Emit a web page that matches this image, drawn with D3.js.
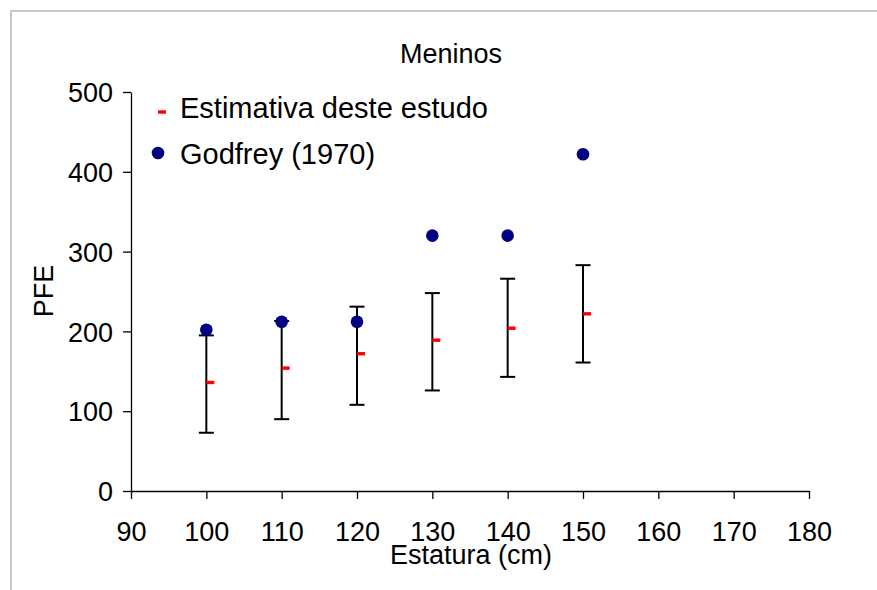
<!DOCTYPE html>
<html>
<head>
<meta charset="utf-8">
<script src="https://cdn.jsdelivr.net/npm/d3@7"></script>
<style>
  body { margin: 0; background: #fff; }
  text { font-family: "Liberation Sans", Arial, sans-serif; fill: #000; }
</style>
</head>
<body>
<div id="chart"></div>
<script>
// data
const estatura = [100, 110, 120, 130, 140, 150]
const estimativa = [136, 154, 172, 189, 204, 222]
const limiteSup = [195, 213, 231, 248, 266, 283]
const limiteInf = [73, 90, 108, 126, 143, 161]
const godfrey = [202, 212, 212, 320, 320, 422]
const xTicks = [90, 100, 110, 120, 130, 140, 150, 160, 170, 180]
const yTicks = [0, 100, 200, 300, 400, 500]

const W = 877, H = 590
const fontSize = 27
const legendSize = 29

let svg = d3.select('#chart')
  .append('svg')
  .attr('width', W)
  .attr('height', H)

// outer frame (only left and top visible)
svg.append('rect')
  .attr('x', 11)
  .attr('y', 11)
  .attr('width', W + 20)
  .attr('height', H + 20)
  .attr('fill', 'none')
  .attr('stroke', '#c8c8c8')
  .attr('stroke-width', 2)

let x = d3.scaleLinear().domain([90, 180]).range([131, 809])
let y = d3.scaleLinear().domain([0, 500]).range([491, 92])

// axes
let yAxis = svg.append('g')
  .attr('transform', 'translate(131,0)')
  .call(d3.axisLeft(y).tickValues(yTicks).tickSize(8).tickSizeOuter(0).tickPadding(10))
yAxis.selectAll('text')
  .style('font-size', fontSize + 'px')
  .attr('dy', '0.36em')

let xAxis = svg.append('g')
  .attr('transform', 'translate(0,491)')
  .call(d3.axisBottom(x).tickValues(xTicks).tickSize(8).tickSizeOuter(0).tickPadding(23))
xAxis.selectAll('text')
  .style('font-size', fontSize + 'px')

svg.selectAll('.domain, .tick line')
  .attr('stroke', '#000')
  .attr('stroke-width', 1.3)

// error bars
let bars = svg.append('g').selectAll('g')
  .data(estatura)
  .enter()
  .append('g')

bars.append('line')
  .attr('x1', d => x(d)).attr('x2', d => x(d))
  .attr('y1', (d, i) => y(limiteSup[i]))
  .attr('y2', (d, i) => y(limiteInf[i]))
  .attr('stroke', '#000').attr('stroke-width', 2)

bars.append('line')
  .attr('x1', d => x(d) - 7.5).attr('x2', d => x(d) + 7.5)
  .attr('y1', (d, i) => y(limiteSup[i]))
  .attr('y2', (d, i) => y(limiteSup[i]))
  .attr('stroke', '#000').attr('stroke-width', 2)

bars.append('line')
  .attr('x1', d => x(d) - 7.5).attr('x2', d => x(d) + 7.5)
  .attr('y1', (d, i) => y(limiteInf[i]))
  .attr('y2', (d, i) => y(limiteInf[i]))
  .attr('stroke', '#000').attr('stroke-width', 2)

// estimativa markers (short red dash)
svg.append('g').selectAll('rect')
  .data(estatura)
  .enter()
  .append('rect')
  .attr('x', d => x(d))
  .attr('y', (d, i) => y(estimativa[i]) - 1.7)
  .attr('width', 8)
  .attr('height', 3.4)
  .attr('fill', '#ff0000')

// godfrey points
svg.append('g').selectAll('circle')
  .data(estatura)
  .enter()
  .append('circle')
  .attr('cx', d => x(d))
  .attr('cy', (d, i) => y(godfrey[i]))
  .attr('r', 6.3)
  .attr('fill', '#000080')

// title and axis titles
svg.append('text')
  .attr('x', 451).attr('y', 63)
  .attr('text-anchor', 'middle')
  .style('font-size', fontSize + 'px')
  .text('Meninos')

svg.append('text')
  .attr('x', 471).attr('y', 564)
  .attr('text-anchor', 'middle')
  .style('font-size', fontSize + 'px')
  .text('Estatura (cm)')

svg.append('text')
  .attr('transform', 'translate(53,291) rotate(-90)')
  .attr('text-anchor', 'middle')
  .style('font-size', fontSize + 'px')
  .text('PFE')

// legend
let legend = svg.append('g')
legend.append('rect')
  .attr('x', 158).attr('y', 110.3)
  .attr('width', 8).attr('height', 3.4)
  .attr('fill', '#ff0000')
legend.append('text')
  .attr('x', 180).attr('y', 118)
  .style('font-size', legendSize + 'px')
  .text('Estimativa deste estudo')
legend.append('circle')
  .attr('cx', 158).attr('cy', 153).attr('r', 6.3)
  .attr('fill', '#000080')
legend.append('text')
  .attr('x', 180).attr('y', 164)
  .style('font-size', legendSize + 'px')
  .text('Godfrey (1970)')
</script>
</body>
</html>
